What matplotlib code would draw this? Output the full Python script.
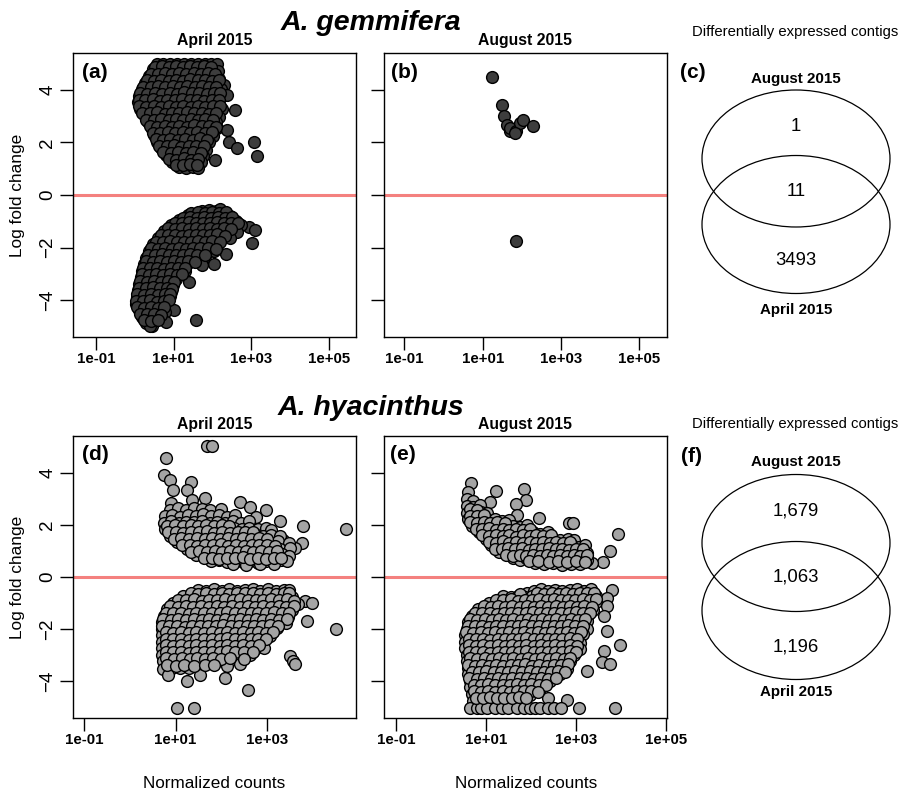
import numpy as np
import matplotlib
matplotlib.use("Agg")
import matplotlib.pyplot as plt
from matplotlib.patches import Ellipse
from matplotlib.ticker import NullLocator

plt.rcParams['font.family'] = ['Liberation Sans', 'DejaVu Sans']

# points are (log10 normalized counts, log fold change)
a_up = [
    (0.57,5.0),(0.74,5.0),(0.92,5.0),(1.1,5.0),(1.27,5.0),(1.45,5.0),(1.63,5.0),(1.8,5.0),(1.97,5.0),(2.12,5.0),
    (0.46,4.78),(0.64,4.71),(0.83,4.77),(1.01,4.7),(1.19,4.8),(1.38,4.73),(1.56,4.76),(1.74,4.69),(1.93,4.79),(2.13,4.72),
    (0.37,4.52),(0.55,4.46),(0.74,4.55),(0.92,4.47),(1.11,4.53),(1.29,4.44),(1.47,4.51),(1.66,4.56),(1.84,4.45),(2.03,4.52),(2.16,4.42),
    (0.27,4.27),(0.46,4.22),(0.64,4.29),(0.83,4.2),(1.02,4.26),(1.2,4.3),(1.39,4.21),(1.57,4.27),(1.76,4.23),(1.95,4.29),(2.13,4.2),(2.29,4.19),
    (0.18,4.02),(0.37,3.97),(0.56,4.04),(0.75,3.95),(0.93,4.01),(1.12,4.05),(1.31,3.96),(1.5,4.03),(1.69,3.98),(1.88,4.04),(2.06,3.96),(2.22,4.02),
    (0.11,3.77),(0.29,3.72),(0.48,3.79),(0.67,3.7),(0.86,3.76),(1.05,3.8),(1.24,3.71),(1.43,3.78),(1.62,3.73),(1.81,3.79),(2.0,3.71),(2.18,3.76),(2.38,3.82),
    (0.08,3.52),(0.25,3.47),(0.44,3.54),(0.63,3.45),(0.82,3.51),(1.0,3.55),(1.19,3.46),(1.38,3.53),(1.57,3.48),(1.76,3.54),(1.95,3.46),(2.14,3.51),
    (0.15,3.27),(0.34,3.22),(0.53,3.29),(0.72,3.2),(0.91,3.26),(1.1,3.3),(1.29,3.21),(1.48,3.28),(1.67,3.23),(1.86,3.29),(2.05,3.21),(2.24,3.26),(2.59,3.24),
    (0.26,3.02),(0.44,2.97),(0.63,3.04),(0.82,2.95),(1.01,3.01),(1.2,3.05),(1.39,2.96),(1.58,3.03),(1.77,2.98),(1.96,3.04),(2.17,2.97),
    (0.35,2.77),(0.54,2.72),(0.73,2.79),(0.92,2.7),(1.11,2.76),(1.3,2.8),(1.49,2.71),(1.68,2.78),(1.87,2.73),(2.1,2.77),
    (0.44,2.52),(0.62,2.47),(0.81,2.54),(1.0,2.45),(1.19,2.51),(1.38,2.55),(1.57,2.46),(1.76,2.53),(1.95,2.48),(2.12,2.54),(2.38,2.48),
    (0.5,2.27),(0.69,2.22),(0.88,2.29),(1.07,2.2),(1.26,2.26),(1.45,2.3),(1.64,2.21),(1.83,2.28),(2.02,2.23),
    (0.58,2.02),(0.77,1.97),(0.96,2.04),(1.15,1.95),(1.34,2.01),(1.53,2.05),(1.72,1.96),(1.92,2.03),(2.42,2.03),(3.06,2.03),
    (0.68,1.77),(0.87,1.72),(1.06,1.79),(1.25,1.7),(1.44,1.76),(1.63,1.8),(1.84,1.73),(2.63,1.78),
    (0.8,1.52),(0.99,1.47),(1.18,1.54),(1.37,1.45),(1.56,1.51),(1.76,1.49),(3.15,1.49),
    (0.95,1.27),(1.14,1.22),(1.33,1.29),(1.52,1.2),(1.7,1.26),(2.07,1.34),
    (1.15,1.06),(1.33,1.02),(1.5,1.08),(1.62,1.04),
]
a_up_more = [
    (0.52,4.88),(0.7,4.9),(0.88,4.86),(1.06,4.9),(1.24,4.87),(1.42,4.9),(1.6,4.86),(1.78,4.89),(1.96,4.87),
    (0.42,4.62),(0.6,4.6),(0.79,4.64),(0.97,4.6),(1.15,4.63),(1.33,4.59),(1.52,4.64),(1.7,4.6),(1.89,4.63),(2.07,4.6),
    (0.32,4.37),(0.51,4.35),(0.69,4.39),(0.88,4.34),(1.06,4.38),(1.25,4.35),(1.43,4.4),(1.62,4.36),(1.81,4.38),(2.0,4.34),(2.18,4.37),
    (0.22,4.12),(0.41,4.1),(0.6,4.14),(0.79,4.09),(0.98,4.13),(1.16,4.1),(1.35,4.15),(1.54,4.11),(1.73,4.13),(1.92,4.09),(2.1,4.12),
    (0.14,3.87),(0.33,3.85),(0.52,3.89),(0.71,3.84),(0.9,3.88),(1.09,3.85),(1.28,3.9),(1.47,3.86),(1.66,3.88),(1.85,3.84),(2.04,3.87),(2.2,3.88),
    (0.1,3.62),(0.27,3.6),(0.46,3.64),(0.65,3.59),(0.84,3.63),(1.03,3.6),(1.22,3.65),(1.41,3.61),(1.6,3.63),(1.79,3.59),(1.98,3.62),(2.16,3.63),
    (0.12,3.37),(0.3,3.35),(0.49,3.39),(0.68,3.34),(0.87,3.38),(1.06,3.35),(1.25,3.4),(1.44,3.36),(1.63,3.38),(1.82,3.34),(2.01,3.37),(2.2,3.38),
    (0.2,3.12),(0.39,3.1),(0.58,3.14),(0.77,3.09),(0.96,3.13),(1.15,3.1),(1.34,3.15),(1.53,3.11),(1.72,3.13),(1.91,3.09),(2.1,3.12),
    (0.3,2.87),(0.49,2.85),(0.68,2.89),(0.87,2.84),(1.06,2.88),(1.25,2.85),(1.44,2.9),(1.63,2.86),(1.82,2.88),(2.02,2.85),
    (0.4,2.62),(0.58,2.6),(0.77,2.64),(0.96,2.59),(1.15,2.63),(1.34,2.6),(1.53,2.65),(1.72,2.61),(1.91,2.63),(2.08,2.6),
    (0.47,2.37),(0.66,2.35),(0.85,2.39),(1.04,2.34),(1.23,2.38),(1.42,2.35),(1.61,2.4),(1.8,2.36),(1.99,2.38),
    (0.54,2.12),(0.73,2.1),(0.92,2.14),(1.11,2.09),(1.3,2.13),(1.49,2.1),(1.68,2.15),(1.87,2.11),
    (0.63,1.87),(0.82,1.85),(1.01,1.89),(1.2,1.84),(1.39,1.88),(1.58,1.85),(1.78,1.88),
    (0.74,1.62),(0.93,1.6),(1.12,1.64),(1.31,1.59),(1.5,1.63),(1.7,1.6),
    (0.88,1.37),(1.07,1.35),(1.26,1.39),(1.45,1.34),(1.63,1.38),
    (1.05,1.15),(1.24,1.13),(1.42,1.17),(1.6,1.14),
]
a_dn = [
    (1.72,-0.62),(1.9,-0.57),(2.08,-0.6),(2.2,-0.55),
    (1.36,-0.77),(1.54,-0.72),(1.72,-0.79),(1.9,-0.74),(2.08,-0.78),(2.27,-0.73),(2.45,-0.8),
    (1.14,-0.95),(1.32,-0.99),(1.5,-0.92),(1.68,-0.97),(1.86,-1.0),(2.04,-0.93),(2.22,-0.98),(2.4,-0.92),(2.6,-0.97),(2.95,-1.21),
    (0.94,-1.15),(1.12,-1.19),(1.3,-1.12),(1.48,-1.18),(1.66,-1.14),(1.84,-1.2),(2.02,-1.13),(2.2,-1.17),(2.38,-1.12),(2.56,-1.19),(2.74,-1.14),(3.1,-1.34),
    (0.76,-1.38),(0.94,-1.43),(1.12,-1.36),(1.3,-1.42),(1.48,-1.39),(1.66,-1.44),(1.84,-1.37),(2.02,-1.41),(2.2,-1.36),(2.4,-1.43),(2.62,-1.4),
    (0.6,-1.63),(0.78,-1.68),(0.96,-1.61),(1.14,-1.67),(1.32,-1.64),(1.5,-1.69),(1.68,-1.62),(1.86,-1.66),(2.04,-1.61),(2.22,-1.68),(2.44,-1.64),(3.02,-1.84),
    (0.48,-1.88),(0.66,-1.93),(0.84,-1.86),(1.02,-1.92),(1.2,-1.89),(1.38,-1.94),(1.56,-1.87),(1.74,-1.91),(1.92,-1.86),(2.12,-1.93),
    (0.38,-2.13),(0.56,-2.18),(0.74,-2.11),(0.92,-2.17),(1.1,-2.14),(1.28,-2.19),(1.46,-2.12),(1.64,-2.16),(1.85,-2.2),(2.05,-2.14),(2.36,-2.23),
    (0.3,-2.38),(0.48,-2.43),(0.66,-2.36),(0.84,-2.42),(1.02,-2.39),(1.2,-2.44),(1.38,-2.37),(1.58,-2.41),(1.76,-2.46),(2.03,-2.61),
    (0.25,-2.63),(0.43,-2.68),(0.61,-2.61),(0.79,-2.67),(0.97,-2.64),(1.15,-2.69),(1.35,-2.62),(1.73,-2.67),
    (0.2,-2.88),(0.38,-2.93),(0.56,-2.86),(0.74,-2.92),(0.92,-2.89),(1.1,-2.94),(1.3,-2.9),
    (0.16,-3.13),(0.34,-3.18),(0.52,-3.11),(0.7,-3.17),(0.88,-3.14),(1.06,-3.19),(1.39,-3.31),
    (0.12,-3.38),(0.3,-3.43),(0.48,-3.36),(0.66,-3.42),(0.84,-3.39),(0.98,-3.44),
    (0.08,-3.63),(0.26,-3.68),(0.44,-3.61),(0.62,-3.67),(0.8,-3.64),(0.93,-3.7),
    (0.05,-3.88),(0.22,-3.93),(0.4,-3.86),(0.58,-3.92),(0.76,-3.89),(0.9,-3.84),
    (0.03,-4.13),(0.2,-4.18),(0.38,-4.11),(0.56,-4.17),(0.74,-4.14),(1.0,-4.39),
    (0.1,-4.38),(0.28,-4.43),(0.46,-4.36),(0.64,-4.42),(0.78,-4.45),
    (0.2,-4.63),(0.38,-4.68),(0.56,-4.61),(0.8,-4.83),(1.57,-4.77),
    (0.3,-4.88),(0.45,-4.97),(0.4,-5.0),
]
a_dn_more = [
    (1.45,-0.68),(1.63,-0.66),(1.81,-0.69),(1.99,-0.65),(2.17,-0.68),(2.35,-0.66),
    (1.23,-0.86),(1.41,-0.84),(1.59,-0.88),(1.77,-0.85),(1.95,-0.87),(2.13,-0.84),(2.31,-0.87),(2.5,-0.85),
    (1.03,-1.05),(1.21,-1.07),(1.39,-1.04),(1.57,-1.08),(1.75,-1.05),(1.93,-1.07),(2.11,-1.04),(2.29,-1.06),(2.47,-1.05),(2.66,-1.07),
    (0.85,-1.27),(1.03,-1.29),(1.21,-1.26),(1.39,-1.3),(1.57,-1.27),(1.75,-1.29),(1.93,-1.26),(2.11,-1.28),(2.29,-1.25),(2.48,-1.3),
    (0.68,-1.52),(0.86,-1.54),(1.04,-1.51),(1.22,-1.55),(1.4,-1.52),(1.58,-1.54),(1.76,-1.51),(1.94,-1.53),(2.12,-1.5),(2.32,-1.55),
    (0.54,-1.77),(0.72,-1.79),(0.9,-1.76),(1.08,-1.8),(1.26,-1.77),(1.44,-1.79),(1.62,-1.76),(1.8,-1.78),(1.98,-1.75),(2.2,-1.8),
    (0.43,-2.02),(0.61,-2.04),(0.79,-2.01),(0.97,-2.05),(1.15,-2.02),(1.33,-2.04),(1.51,-2.01),(1.69,-2.03),(1.88,-2.0),(2.08,-2.04),
    (0.34,-2.27),(0.52,-2.29),(0.7,-2.26),(0.88,-2.3),(1.06,-2.27),(1.24,-2.29),(1.42,-2.26),(1.61,-2.28),(1.8,-2.3),
    (0.28,-2.52),(0.46,-2.54),(0.64,-2.51),(0.82,-2.55),(1.0,-2.52),(1.18,-2.54),(1.36,-2.51),(1.55,-2.53),
    (0.22,-2.77),(0.4,-2.79),(0.58,-2.76),(0.76,-2.8),(0.94,-2.77),(1.12,-2.79),(1.3,-2.76),
    (0.18,-3.02),(0.36,-3.04),(0.54,-3.01),(0.72,-3.05),(0.9,-3.02),(1.08,-3.04),(1.22,-3.01),
    (0.14,-3.27),(0.32,-3.29),(0.5,-3.26),(0.68,-3.3),(0.86,-3.27),(1.02,-3.29),
    (0.1,-3.52),(0.28,-3.54),(0.46,-3.51),(0.64,-3.55),(0.82,-3.52),(0.95,-3.56),
    (0.06,-3.77),(0.24,-3.79),(0.42,-3.76),(0.6,-3.8),(0.78,-3.77),(0.91,-3.75),
    (0.04,-4.02),(0.21,-4.04),(0.39,-4.01),(0.57,-4.05),(0.75,-4.02),(0.88,-4.0),
    (0.06,-4.27),(0.24,-4.29),(0.42,-4.26),(0.6,-4.3),(0.76,-4.27),
    (0.15,-4.52),(0.33,-4.54),(0.51,-4.51),(0.69,-4.55),
    (0.25,-4.77),(0.42,-4.79),(0.6,-4.76),
]
b_pts = [
    (1.23,4.48),(1.5,3.44),(1.54,3.0),(1.61,2.68),(1.7,2.43),(1.71,2.55),
    (1.85,2.42),(1.95,2.74),(2.02,2.86),(2.29,2.61),(1.82,2.35),(1.84,-1.74),
]
d_up = [
    (1.68,5.0),(1.8,5.0),(0.79,4.55),(0.75,3.89),(0.88,3.72),(0.94,3.34),(1.34,3.63),(1.25,3.34),
    (0.91,2.83),(1.36,2.96),(1.65,3.02),(2.41,2.89),(2.63,2.7),(2.98,2.57),(2.77,2.31),(3.29,2.13),
    (3.79,1.96),(4.74,1.85),(3.77,1.3),(3.62,1.11),(3.36,1.43),
    (0.88,2.58),(1.05,2.63),(1.22,2.56),(1.4,2.66),(1.58,2.6),(1.75,2.55),(2.0,2.62),
    (0.76,2.33),(0.93,2.38),(1.1,2.31),(1.27,2.37),(1.44,2.34),(1.61,2.4),(1.78,2.32),(1.95,2.36),(2.12,2.3),(2.3,2.38),
    (0.74,2.08),(0.9,2.13),(1.07,2.06),(1.24,2.12),(1.41,2.09),(1.58,2.15),(1.75,2.07),(1.92,2.11),(2.09,2.05),(2.26,2.13),(2.44,2.08),(2.62,2.14),
    (0.76,1.83),(0.92,1.88),(1.09,1.81),(1.26,1.87),(1.43,1.84),(1.6,1.9),(1.77,1.82),(1.94,1.86),(2.11,1.8),(2.28,1.88),(2.45,1.83),(2.62,1.89),(2.8,1.82),(2.98,1.87),(3.1,1.8),
    (0.88,1.58),(1.05,1.63),(1.22,1.56),(1.39,1.62),(1.56,1.59),(1.73,1.65),(1.9,1.57),(2.07,1.61),(2.24,1.55),(2.41,1.63),(2.58,1.58),(2.75,1.64),(2.92,1.57),(3.1,1.62),(3.3,1.56),
    (1.03,1.33),(1.2,1.38),(1.37,1.31),(1.54,1.37),(1.71,1.34),(1.88,1.4),(2.05,1.32),(2.22,1.36),(2.39,1.3),(2.56,1.38),(2.73,1.33),(2.9,1.39),(3.07,1.32),(3.24,1.37),(3.48,1.3),
    (1.25,1.08),(1.42,1.13),(1.59,1.06),(1.76,1.12),(1.93,1.09),(2.1,1.15),(2.27,1.07),(2.44,1.11),(2.61,1.05),(2.78,1.13),(2.95,1.08),(3.12,1.14),(3.3,1.07),(3.52,1.1),
    (1.45,0.83),(1.62,0.88),(1.79,0.81),(1.96,0.87),(2.13,0.84),(2.3,0.9),(2.47,0.82),(2.64,0.86),(2.81,0.8),(2.98,0.88),(3.15,0.83),(3.34,0.89),(3.48,0.82),
    (1.78,0.62),(1.95,0.66),(2.12,0.59),(2.3,0.63),(2.47,0.56),(2.64,0.6),(2.81,0.55),(2.98,0.61),(3.15,0.58),(3.32,0.64),(3.44,0.6),
    (2.25,0.5),(2.55,0.47),(2.85,0.49),(3.15,0.5),
]
d_up_more = [
    (0.82,1.97),(0.99,1.99),(1.16,1.95),(1.33,1.98),(1.5,1.96),(1.67,2.0),(1.84,1.95),(2.01,1.98),(2.18,1.95),
    (0.84,1.72),(1.0,1.74),(1.17,1.7),(1.34,1.73),(1.51,1.71),(1.68,1.75),(1.85,1.7),(2.02,1.73),(2.19,1.7),(2.36,1.74),(2.53,1.71),(2.7,1.74),
    (0.96,1.47),(1.13,1.49),(1.3,1.45),(1.47,1.48),(1.64,1.46),(1.81,1.5),(1.98,1.45),(2.15,1.48),(2.32,1.45),(2.49,1.49),(2.66,1.46),(2.83,1.49),(3.0,1.45),
    (1.14,1.22),(1.31,1.24),(1.48,1.2),(1.65,1.23),(1.82,1.21),(1.99,1.25),(2.16,1.2),(2.33,1.23),(2.5,1.2),(2.67,1.24),(2.84,1.21),(3.01,1.24),(3.18,1.2),
    (1.35,0.97),(1.52,0.99),(1.69,0.95),(1.86,0.98),(2.03,0.96),(2.2,1.0),(2.37,0.95),(2.54,0.98),(2.71,0.95),(2.88,0.99),(3.05,0.96),(3.22,0.99),
    (1.62,0.72),(1.79,0.74),(1.96,0.7),(2.13,0.73),(2.3,0.71),(2.47,0.75),(2.64,0.7),(2.81,0.73),(2.98,0.7),(3.15,0.74),(3.32,0.71),
]
d_dn = [
    (1.5,-0.48),(1.67,-0.53),(1.84,-0.46),(2.01,-0.52),(2.18,-0.47),(2.35,-0.54),(2.52,-0.49),(2.69,-0.45),(2.86,-0.52),(3.03,-0.47),(3.2,-0.53),(3.37,-0.48),(3.5,-0.5),
    (1.17,-0.73),(1.34,-0.78),(1.51,-0.71),(1.68,-0.77),(1.85,-0.72),(2.02,-0.79),(2.19,-0.74),(2.36,-0.7),(2.53,-0.77),(2.7,-0.72),(2.87,-0.78),(3.04,-0.73),(3.21,-0.76),(3.38,-0.71),(3.55,-0.77),(3.84,-0.9),
    (0.95,-0.98),(1.12,-1.03),(1.29,-0.96),(1.46,-1.02),(1.63,-0.97),(1.8,-1.04),(1.97,-0.99),(2.14,-0.95),(2.31,-1.02),(2.48,-0.97),(2.65,-1.03),(2.82,-0.98),(2.99,-1.01),(3.16,-0.96),(3.33,-1.02),(3.5,-0.97),(3.68,-1.03),(4.0,-1.0),
    (0.81,-1.23),(0.98,-1.28),(1.15,-1.21),(1.32,-1.27),(1.49,-1.22),(1.66,-1.29),(1.83,-1.24),(2.0,-1.2),(2.17,-1.27),(2.34,-1.22),(2.51,-1.28),(2.68,-1.23),(2.85,-1.26),(3.02,-1.21),(3.19,-1.27),(3.36,-1.22),(3.55,-1.25),
    (0.74,-1.48),(0.91,-1.53),(1.08,-1.46),(1.25,-1.52),(1.42,-1.47),(1.59,-1.54),(1.76,-1.49),(1.93,-1.45),(2.1,-1.52),(2.27,-1.47),(2.44,-1.53),(2.61,-1.48),(2.78,-1.51),(2.95,-1.46),(3.12,-1.52),(3.29,-1.47),(3.46,-1.53),(3.88,-1.7),
    (0.71,-1.73),(0.88,-1.78),(1.05,-1.71),(1.22,-1.77),(1.39,-1.72),(1.56,-1.79),(1.73,-1.74),(1.9,-1.7),(2.07,-1.77),(2.24,-1.72),(2.41,-1.78),(2.58,-1.73),(2.75,-1.76),(2.92,-1.71),(3.09,-1.77),(3.26,-1.72),(3.42,-1.78),
    (0.7,-1.98),(0.87,-2.03),(1.04,-1.96),(1.21,-2.02),(1.38,-1.97),(1.55,-2.04),(1.72,-1.99),(1.89,-1.95),(2.06,-2.02),(2.23,-1.97),(2.4,-2.03),(2.57,-1.98),(2.74,-2.01),(2.91,-1.96),(3.08,-2.02),(3.22,-1.97),(4.53,-1.99),
    (0.7,-2.23),(0.87,-2.28),(1.04,-2.21),(1.21,-2.27),(1.38,-2.22),(1.55,-2.29),(1.72,-2.24),(1.89,-2.2),(2.06,-2.27),(2.23,-2.22),(2.4,-2.28),(2.57,-2.23),(2.74,-2.26),(2.91,-2.21),(3.07,-2.27),
    (0.7,-2.48),(0.87,-2.53),(1.04,-2.46),(1.21,-2.52),(1.38,-2.47),(1.55,-2.54),(1.72,-2.49),(1.89,-2.45),(2.06,-2.52),(2.23,-2.47),(2.4,-2.53),(2.57,-2.48),(2.74,-2.51),(2.92,-2.46),
    (0.7,-2.73),(0.87,-2.78),(1.04,-2.71),(1.21,-2.77),(1.38,-2.72),(1.55,-2.79),(1.72,-2.74),(1.89,-2.7),(2.06,-2.77),(2.23,-2.72),(2.4,-2.78),(2.57,-2.73),(2.75,-2.76),(2.95,-2.72),
    (0.7,-2.98),(0.87,-3.03),(1.04,-2.96),(1.21,-3.02),(1.38,-2.97),(1.55,-3.04),(1.72,-2.99),(1.89,-2.95),(2.06,-3.02),(2.23,-2.97),(2.4,-3.03),(2.63,-2.97),(3.51,-3.03),(3.58,-3.2),(3.62,-3.33),
    (0.73,-3.23),(0.9,-3.28),(1.07,-3.21),(1.24,-3.27),(1.41,-3.22),(1.58,-3.29),(1.75,-3.24),(1.92,-3.2),(2.1,-3.27),(2.41,-3.35),
    (0.73,-3.53),(0.92,-3.48),(1.1,-3.5),(1.3,-3.47),(2.14,-3.42),
    (0.84,-3.74),(1.54,-3.74),(2.08,-3.86),(1.25,-4.0),(2.6,-4.31),(1.03,-5.0),(1.41,-5.0),
]
d_dn_more = [
    (1.33,-0.62),(1.5,-0.64),(1.67,-0.61),(1.84,-0.65),(2.01,-0.62),(2.18,-0.64),(2.35,-0.61),(2.52,-0.63),(2.69,-0.6),(2.86,-0.64),(3.03,-0.62),(3.2,-0.64),(3.37,-0.61),(3.5,-0.63),
    (1.06,-0.87),(1.23,-0.89),(1.4,-0.86),(1.57,-0.9),(1.74,-0.87),(1.91,-0.89),(2.08,-0.86),(2.25,-0.88),(2.42,-0.85),(2.59,-0.89),(2.76,-0.87),(2.93,-0.89),(3.1,-0.86),(3.27,-0.88),(3.44,-0.85),(3.6,-0.9),
    (0.88,-1.12),(1.05,-1.14),(1.22,-1.11),(1.39,-1.15),(1.56,-1.12),(1.73,-1.14),(1.9,-1.11),(2.07,-1.13),(2.24,-1.1),(2.41,-1.14),(2.58,-1.12),(2.75,-1.14),(2.92,-1.11),(3.09,-1.13),(3.26,-1.1),(3.43,-1.14),(3.6,-1.12),
    (0.78,-1.37),(0.95,-1.39),(1.12,-1.36),(1.29,-1.4),(1.46,-1.37),(1.63,-1.39),(1.8,-1.36),(1.97,-1.38),(2.14,-1.35),(2.31,-1.39),(2.48,-1.37),(2.65,-1.39),(2.82,-1.36),(2.99,-1.38),(3.16,-1.35),(3.33,-1.39),(3.5,-1.37),
    (0.72,-1.62),(0.89,-1.64),(1.06,-1.61),(1.23,-1.65),(1.4,-1.62),(1.57,-1.64),(1.74,-1.61),(1.91,-1.63),(2.08,-1.6),(2.25,-1.64),(2.42,-1.62),(2.59,-1.64),(2.76,-1.61),(2.93,-1.63),(3.1,-1.6),(3.27,-1.64),(3.44,-1.62),
    (0.7,-1.87),(0.86,-1.89),(1.03,-1.86),(1.2,-1.9),(1.37,-1.87),(1.54,-1.89),(1.71,-1.86),(1.88,-1.88),(2.05,-1.85),(2.22,-1.89),(2.39,-1.87),(2.56,-1.89),(2.73,-1.86),(2.9,-1.88),(3.07,-1.85),(3.24,-1.89),
    (0.78,-2.12),(0.95,-2.14),(1.12,-2.11),(1.29,-2.15),(1.46,-2.12),(1.63,-2.14),(1.8,-2.11),(1.97,-2.13),(2.14,-2.1),(2.31,-2.14),(2.48,-2.12),(2.65,-2.14),(2.82,-2.11),(2.99,-2.13),(3.14,-2.1),
    (0.78,-2.37),(0.95,-2.39),(1.12,-2.36),(1.29,-2.4),(1.46,-2.37),(1.63,-2.39),(1.8,-2.36),(1.97,-2.38),(2.14,-2.35),(2.31,-2.39),(2.48,-2.37),(2.65,-2.39),(2.82,-2.36),(2.99,-2.38),
    (0.78,-2.62),(0.95,-2.64),(1.12,-2.61),(1.29,-2.65),(1.46,-2.62),(1.63,-2.64),(1.8,-2.61),(1.97,-2.63),(2.14,-2.6),(2.31,-2.64),(2.48,-2.62),(2.65,-2.64),(2.84,-2.61),
    (0.78,-2.87),(0.95,-2.89),(1.12,-2.86),(1.29,-2.9),(1.46,-2.87),(1.63,-2.89),(1.8,-2.86),(1.97,-2.88),(2.14,-2.85),(2.31,-2.89),(2.5,-2.87),(2.7,-2.89),
    (0.8,-3.12),(0.97,-3.14),(1.14,-3.11),(1.31,-3.15),(1.48,-3.12),(1.65,-3.14),(1.82,-3.11),(1.99,-3.13),(2.2,-3.1),(2.5,-3.14),
    (0.82,-3.37),(1.0,-3.39),(1.18,-3.36),(1.4,-3.4),(1.65,-3.37),(1.85,-3.36),
]
e_up = [
    (0.66,3.59),(0.61,3.27),(1.23,3.31),(1.84,3.38),(1.09,2.89),(1.88,2.93),(1.67,2.8),(1.69,2.38),
    (2.17,2.25),(2.84,2.06),(2.94,2.06),(3.93,1.66),(3.77,0.98),(3.6,0.56),(3.36,0.53),
    (0.58,2.97),(0.72,2.92),
    (0.57,2.72),(0.72,2.67),(0.87,2.74),
    (0.58,2.47),(0.73,2.42),(0.88,2.5),(1.03,2.44),
    (0.6,2.22),(0.75,2.17),(0.9,2.24),(1.05,2.18),(1.2,2.23),(1.36,2.16),(1.52,2.2),
    (0.7,1.97),(0.85,1.92),(1.0,1.99),(1.15,1.93),(1.3,1.98),(1.45,1.91),(1.6,1.96),(1.75,1.92),(1.92,1.98),
    (0.85,1.72),(1.0,1.67),(1.15,1.74),(1.3,1.68),(1.45,1.73),(1.6,1.66),(1.75,1.71),(1.9,1.67),(2.05,1.73),(2.2,1.66),(2.38,1.72),
    (1.0,1.47),(1.15,1.42),(1.3,1.49),(1.45,1.43),(1.6,1.48),(1.75,1.41),(1.9,1.46),(2.05,1.42),(2.2,1.48),(2.35,1.41),(2.5,1.46),(2.65,1.4),(2.82,1.45),(2.95,1.42),
    (1.12,1.22),(1.27,1.17),(1.42,1.24),(1.57,1.18),(1.72,1.23),(1.87,1.16),(2.02,1.21),(2.17,1.17),(2.32,1.23),(2.47,1.16),(2.62,1.21),(2.77,1.17),(2.92,1.23),(3.07,1.16),(3.2,1.21),
    (1.3,0.97),(1.45,0.92),(1.6,0.99),(1.75,0.93),(1.9,0.98),(2.05,0.91),(2.2,0.96),(2.35,0.92),(2.5,0.98),(2.65,0.91),(2.8,0.96),(2.95,0.92),(3.1,0.98),(3.25,0.93),
    (1.6,0.72),(1.75,0.67),(1.9,0.74),(2.05,0.68),(2.2,0.73),(2.35,0.66),(2.5,0.71),(2.65,0.67),(2.8,0.73),(2.95,0.66),(3.1,0.71),(3.25,0.65),
    (2.1,0.52),(2.3,0.48),(2.5,0.53),(2.7,0.47),(2.9,0.5),(3.1,0.49),
]
e_up_more = [
    (0.64,2.6),(0.8,2.58),
    (0.65,2.35),(0.8,2.33),(0.95,2.37),
    (0.65,2.1),(0.8,2.06),(0.95,2.1),(1.1,2.06),(1.25,2.1),(1.42,2.07),
    (0.77,1.84),(0.92,1.82),(1.07,1.86),(1.22,1.81),(1.37,1.85),(1.52,1.8),(1.67,1.84),(1.82,1.81),(1.98,1.85),
    (0.92,1.59),(1.07,1.57),(1.22,1.61),(1.37,1.56),(1.52,1.6),(1.67,1.55),(1.82,1.59),(1.97,1.56),(2.12,1.6),(2.28,1.56),(2.44,1.59),
    (1.07,1.34),(1.22,1.32),(1.37,1.36),(1.52,1.31),(1.67,1.35),(1.82,1.3),(1.97,1.34),(2.12,1.31),(2.27,1.35),(2.42,1.31),(2.57,1.34),(2.72,1.3),(2.88,1.33),
    (1.2,1.09),(1.35,1.07),(1.5,1.11),(1.65,1.06),(1.8,1.1),(1.95,1.05),(2.1,1.09),(2.25,1.06),(2.4,1.1),(2.55,1.06),(2.7,1.09),(2.85,1.05),(3.0,1.08),(3.15,1.06),
    (1.45,0.84),(1.6,0.82),(1.75,0.86),(1.9,0.81),(2.05,0.85),(2.2,0.8),(2.35,0.84),(2.5,0.81),(2.65,0.85),(2.8,0.81),(2.95,0.84),(3.1,0.8),(3.25,0.83),
    (1.95,0.6),(2.15,0.6),(2.4,0.58),(2.6,0.6),(2.8,0.58),(3.0,0.6),(3.2,0.58),
]
e_dn = [
    (1.91,-0.61),(2.06,-0.52),(2.22,-0.47),(2.38,-0.53),(2.54,-0.48),(2.7,-0.54),(2.86,-0.49),(3.02,-0.45),(3.18,-0.52),(3.34,-0.47),(3.8,-0.48),
    (1.39,-0.73),(1.55,-0.78),(1.71,-0.71),(1.87,-0.77),(2.03,-0.72),(2.19,-0.79),(2.35,-0.74),(2.51,-0.7),(2.67,-0.77),(2.83,-0.72),(2.99,-0.78),(3.15,-0.73),(3.31,-0.76),(3.45,-0.71),(3.69,-0.8),
    (1.06,-0.98),(1.22,-1.03),(1.38,-0.96),(1.54,-1.02),(1.7,-0.97),(1.86,-1.04),(2.02,-0.99),(2.18,-0.95),(2.34,-1.02),(2.5,-0.97),(2.66,-1.03),(2.82,-0.98),(2.98,-1.01),(3.14,-0.96),(3.3,-1.02),(3.45,-0.97),(3.69,-1.12),
    (0.83,-1.23),(0.99,-1.28),(1.15,-1.21),(1.31,-1.27),(1.47,-1.22),(1.63,-1.29),(1.79,-1.24),(1.95,-1.2),(2.11,-1.27),(2.27,-1.22),(2.43,-1.28),(2.59,-1.23),(2.75,-1.26),(2.91,-1.21),(3.07,-1.27),(3.23,-1.22),(3.39,-1.26),
    (0.69,-1.48),(0.85,-1.53),(1.01,-1.46),(1.17,-1.52),(1.33,-1.47),(1.49,-1.54),(1.65,-1.49),(1.81,-1.45),(1.97,-1.52),(2.13,-1.47),(2.29,-1.53),(2.45,-1.48),(2.61,-1.51),(2.77,-1.46),(2.93,-1.52),(3.09,-1.47),(3.25,-1.53),(3.62,-1.5),
    (0.61,-1.73),(0.77,-1.78),(0.93,-1.71),(1.09,-1.77),(1.25,-1.72),(1.41,-1.79),(1.57,-1.74),(1.73,-1.7),(1.89,-1.77),(2.05,-1.72),(2.21,-1.78),(2.37,-1.73),(2.53,-1.76),(2.69,-1.71),(2.85,-1.77),(3.01,-1.72),(3.17,-1.78),(3.25,-1.7),
    (0.57,-1.98),(0.73,-2.03),(0.89,-1.96),(1.05,-2.02),(1.21,-1.97),(1.37,-2.04),(1.53,-1.99),(1.69,-1.95),(1.85,-2.02),(2.01,-1.97),(2.17,-2.03),(2.33,-1.98),(2.49,-2.01),(2.65,-1.96),(2.81,-2.02),(2.97,-1.97),(3.13,-2.03),(3.25,-1.98),(3.69,-2.05),
    (0.54,-2.23),(0.7,-2.28),(0.86,-2.21),(1.02,-2.27),(1.18,-2.22),(1.34,-2.29),(1.5,-2.24),(1.66,-2.2),(1.82,-2.27),(1.98,-2.22),(2.14,-2.28),(2.3,-2.23),(2.46,-2.26),(2.62,-2.21),(2.78,-2.27),(2.94,-2.22),(3.1,-2.28),(3.17,-2.2),
    (0.54,-2.48),(0.7,-2.53),(0.86,-2.46),(1.02,-2.52),(1.18,-2.47),(1.34,-2.54),(1.5,-2.49),(1.66,-2.45),(1.82,-2.52),(1.98,-2.47),(2.14,-2.53),(2.3,-2.48),(2.46,-2.51),(2.62,-2.46),(2.78,-2.52),(2.94,-2.47),(3.1,-2.51),(3.99,-2.59),
    (0.54,-2.73),(0.7,-2.78),(0.86,-2.71),(1.02,-2.77),(1.18,-2.72),(1.34,-2.79),(1.5,-2.74),(1.66,-2.7),(1.82,-2.77),(1.98,-2.72),(2.14,-2.78),(2.3,-2.73),(2.46,-2.76),(2.62,-2.71),(2.78,-2.77),(2.94,-2.72),(3.1,-2.76),(3.62,-2.84),
    (0.57,-2.98),(0.73,-3.03),(0.89,-2.96),(1.05,-3.02),(1.21,-2.97),(1.37,-3.04),(1.53,-2.99),(1.69,-2.95),(1.85,-3.02),(2.01,-2.97),(2.17,-3.03),(2.33,-2.98),(2.49,-3.01),(2.65,-2.96),(2.81,-3.02),(2.95,-2.97),(3.58,-3.25),(3.77,-3.33),
    (0.57,-3.23),(0.73,-3.28),(0.89,-3.21),(1.05,-3.27),(1.21,-3.22),(1.37,-3.29),(1.53,-3.24),(1.69,-3.2),(1.85,-3.27),(2.01,-3.22),(2.17,-3.28),(2.33,-3.23),(2.49,-3.26),(2.65,-3.21),(2.81,-3.27),(2.88,-3.2),
    (0.61,-3.48),(0.77,-3.53),(0.93,-3.46),(1.09,-3.52),(1.25,-3.47),(1.41,-3.54),(1.57,-3.49),(1.73,-3.45),(1.89,-3.52),(2.05,-3.47),(2.21,-3.53),(2.37,-3.48),(2.53,-3.51),(2.69,-3.46),(2.8,-3.52),(3.25,-3.61),
    (0.61,-3.73),(0.77,-3.78),(0.93,-3.71),(1.09,-3.77),(1.25,-3.72),(1.41,-3.79),(1.57,-3.74),(1.73,-3.7),(1.89,-3.77),(2.05,-3.72),(2.21,-3.78),(2.37,-3.73),(2.53,-3.76),(2.65,-3.71),
    (0.65,-3.98),(0.81,-4.03),(0.97,-3.96),(1.13,-4.02),(1.29,-3.97),(1.45,-4.04),(1.61,-3.99),(1.77,-3.95),(1.93,-4.02),(2.09,-3.97),(2.25,-4.03),(2.43,-3.98),
    (0.65,-4.23),(0.81,-4.28),(0.97,-4.21),(1.13,-4.27),(1.29,-4.22),(1.45,-4.29),(1.61,-4.24),(1.77,-4.2),(1.93,-4.27),(2.09,-4.22),(2.21,-4.28),
    (0.69,-4.48),(0.85,-4.53),(1.01,-4.46),(1.17,-4.52),(1.33,-4.47),(1.49,-4.54),(1.65,-4.49),(1.81,-4.45),(1.98,-4.52),(2.39,-4.65),(2.8,-4.7),
    (0.72,-4.73),(0.9,-4.78),(1.1,-4.72),(1.3,-4.77),(1.5,-4.74),(1.69,-4.71),
    (0.64,-5.0),(0.79,-5.0),(0.9,-5.0),(1.02,-5.0),(1.2,-5.0),(1.35,-5.0),(1.5,-5.0),(1.69,-5.0),(1.84,-5.0),(1.99,-5.0),
    (2.1,-5.0),(2.21,-5.0),(2.39,-5.0),(2.52,-5.0),(2.66,-5.0),(3.08,-5.0),(3.88,-5.0),
]
e_dn_more = [
    (1.75,-0.65),(2.14,-0.62),(2.3,-0.64),(2.46,-0.61),(2.62,-0.65),(2.78,-0.62),(2.94,-0.64),(3.1,-0.61),(3.26,-0.63),(3.4,-0.6),
    (1.23,-0.87),(1.39,-0.89),(1.55,-0.86),(1.71,-0.9),(1.87,-0.87),(2.03,-0.89),(2.19,-0.86),(2.35,-0.88),(2.51,-0.85),(2.67,-0.89),(2.83,-0.87),(2.99,-0.89),(3.15,-0.86),(3.31,-0.88),(3.45,-0.85),
    (0.95,-1.12),(1.11,-1.14),(1.27,-1.11),(1.43,-1.15),(1.59,-1.12),(1.75,-1.14),(1.91,-1.11),(2.07,-1.13),(2.23,-1.1),(2.39,-1.14),(2.55,-1.12),(2.71,-1.14),(2.87,-1.11),(3.03,-1.13),(3.19,-1.1),(3.35,-1.14),
    (0.76,-1.37),(0.92,-1.39),(1.08,-1.36),(1.24,-1.4),(1.4,-1.37),(1.56,-1.39),(1.72,-1.36),(1.88,-1.38),(2.04,-1.35),(2.2,-1.39),(2.36,-1.37),(2.52,-1.39),(2.68,-1.36),(2.84,-1.38),(3.0,-1.35),(3.16,-1.39),(3.32,-1.37),
    (0.65,-1.62),(0.81,-1.64),(0.97,-1.61),(1.13,-1.65),(1.29,-1.62),(1.45,-1.64),(1.61,-1.61),(1.77,-1.63),(1.93,-1.6),(2.09,-1.64),(2.25,-1.62),(2.41,-1.64),(2.57,-1.61),(2.73,-1.63),(2.89,-1.6),(3.05,-1.64),(3.21,-1.62),
    (0.59,-1.87),(0.75,-1.89),(0.91,-1.86),(1.07,-1.9),(1.23,-1.87),(1.39,-1.89),(1.55,-1.86),(1.71,-1.88),(1.87,-1.85),(2.03,-1.89),(2.19,-1.87),(2.35,-1.89),(2.51,-1.86),(2.67,-1.88),(2.83,-1.85),(2.99,-1.89),(3.15,-1.87),
    (0.56,-2.12),(0.72,-2.14),(0.88,-2.11),(1.04,-2.15),(1.2,-2.12),(1.36,-2.14),(1.52,-2.11),(1.68,-2.13),(1.84,-2.1),(2.0,-2.14),(2.16,-2.12),(2.32,-2.14),(2.48,-2.11),(2.64,-2.13),(2.8,-2.1),(2.96,-2.14),(3.12,-2.12),
    (0.62,-2.37),(0.78,-2.39),(0.94,-2.36),(1.1,-2.4),(1.26,-2.37),(1.42,-2.39),(1.58,-2.36),(1.74,-2.38),(1.9,-2.35),(2.06,-2.39),(2.22,-2.37),(2.38,-2.39),(2.54,-2.36),(2.7,-2.38),(2.86,-2.35),(3.02,-2.39),
    (0.62,-2.62),(0.78,-2.64),(0.94,-2.61),(1.1,-2.65),(1.26,-2.62),(1.42,-2.64),(1.58,-2.61),(1.74,-2.63),(1.9,-2.6),(2.06,-2.64),(2.22,-2.62),(2.38,-2.64),(2.54,-2.61),(2.7,-2.63),(2.86,-2.6),(3.02,-2.64),
    (0.62,-2.87),(0.78,-2.89),(0.94,-2.86),(1.1,-2.9),(1.26,-2.87),(1.42,-2.89),(1.58,-2.86),(1.74,-2.88),(1.9,-2.85),(2.06,-2.89),(2.22,-2.87),(2.38,-2.89),(2.54,-2.86),(2.7,-2.88),(2.86,-2.85),(3.0,-2.89),
    (0.65,-3.12),(0.81,-3.14),(0.97,-3.11),(1.13,-3.15),(1.29,-3.12),(1.45,-3.14),(1.61,-3.11),(1.77,-3.13),(1.93,-3.1),(2.09,-3.14),(2.25,-3.12),(2.41,-3.14),(2.57,-3.11),(2.73,-3.13),(2.88,-3.1),
    (0.59,-3.37),(0.75,-3.39),(0.91,-3.36),(1.07,-3.4),(1.23,-3.37),(1.39,-3.39),(1.55,-3.36),(1.71,-3.38),(1.87,-3.35),(2.03,-3.39),(2.19,-3.37),(2.35,-3.39),(2.51,-3.36),(2.67,-3.38),(2.82,-3.35),
    (0.69,-3.62),(0.85,-3.64),(1.01,-3.61),(1.17,-3.65),(1.33,-3.62),(1.49,-3.64),(1.65,-3.61),(1.81,-3.63),(1.97,-3.6),(2.13,-3.64),(2.29,-3.62),(2.45,-3.64),(2.61,-3.61),(2.75,-3.63),
    (0.63,-3.87),(0.79,-3.89),(0.95,-3.86),(1.11,-3.9),(1.27,-3.87),(1.43,-3.89),(1.59,-3.86),(1.75,-3.88),(1.91,-3.85),(2.07,-3.89),(2.23,-3.87),(2.39,-3.89),(2.55,-3.86),
    (0.73,-4.12),(0.89,-4.14),(1.05,-4.11),(1.21,-4.15),(1.37,-4.12),(1.53,-4.14),(1.69,-4.11),(1.85,-4.13),(2.01,-4.1),(2.17,-4.14),(2.33,-4.12),
    (0.73,-4.37),(0.89,-4.39),(1.05,-4.36),(1.21,-4.4),(1.37,-4.37),(1.53,-4.39),(1.69,-4.36),(1.85,-4.38),(2.01,-4.35),(2.15,-4.39),
    (0.77,-4.62),(0.93,-4.64),(1.09,-4.61),(1.25,-4.65),(1.41,-4.62),(1.57,-4.64),(1.73,-4.61),(1.9,-4.63),
]

species = ['A. gemmifera', 'A. hyacinthus']
months = ['April 2015', 'August 2015']
venn_c = ['1', '11', '3493']
venn_f = ['1,679', '1,063', '1,196']
xtick_pos = [1e-1, 1e1, 1e3, 1e5]
xtick_lab = ['1e-01', '1e+01', '1e+03', '1e+05']
ytick_pos = [-4, -2, 0, 2, 4]
ytick_lab = ['\u22124', '\u22122', '0', '2', '4']

W, H = 901, 792
fig = plt.figure(figsize=(W / 100, H / 100), dpi=100)


def px_axes(l, t, r, b):
    return fig.add_axes([l / W, 1 - b / H, (r - l) / W, (b - t) / H])


def ma_panel(box, xlo, xhi, pts, fc, ylabels):
    ax = px_axes(*box)
    ax.set_xscale('log')
    ax.set_xlim(10 ** xlo, 10 ** xhi)
    ax.set_ylim(-5.4, 5.4)
    ax.axhline(0, color='#f4817f', lw=2.2, zorder=1)
    for p in pts:
        arr = np.array(p)
        ax.scatter(10 ** arr[:, 0], arr[:, 1], s=72, c=fc, edgecolors='black',
                   linewidths=1.0, zorder=2)
    # only ticks that fall inside the panel
    keep = [i for i, v in enumerate(xtick_pos) if np.log10(v) <= xhi]
    ax.set_xticks([xtick_pos[i] for i in keep], [xtick_lab[i] for i in keep])
    ax.xaxis.set_minor_locator(NullLocator())
    ax.set_yticks(ytick_pos, ytick_lab if ylabels else [''] * 5)
    ax.tick_params(axis='x', direction='out', length=9.5, width=1, pad=1.5, labelsize=10.8)
    ax.tick_params(axis='y', direction='out', length=9.5, width=1, pad=2.5, labelsize=13.5)
    for lab in ax.get_xticklabels():
        lab.set_fontweight('bold')
    for lab in ax.get_yticklabels():
        lab.set_rotation(90)
        lab.set_va('center')
    for sp in ax.spines.values():
        sp.set_linewidth(1.0)
    return ax


dark = '#3d3d3d'
light = '#a4a4a4'
ma_panel((73, 53, 356, 337), -1.585, 5.69, [a_up, a_up_more, a_dn, a_dn_more], dark, True)
ma_panel((384, 53, 667, 337), -1.52, 5.71, [b_pts], dark, False)
ma_panel((73, 436, 356, 718), -1.25, 4.96, [d_up, d_up_more, d_dn, d_dn_more], light, True)
ma_panel((384, 436, 667, 718), -1.27, 5.03, [e_up, e_up_more, e_dn, e_dn_more], light, False)

# overlay in pixel coordinates for titles, labels and Venn diagrams
ov = fig.add_axes([0, 0, 1, 1])
ov.set_xlim(0, W)
ov.set_ylim(H, 0)
ov.axis('off')
ov.patch.set_alpha(0)

for row, yoff in enumerate([0, 384]):
    ov.text(371, 23 + yoff + (1 if row else 0), species[row], ha='center', va='center',
            fontsize=20.5, fontweight='bold', fontstyle='italic')
    ov.text(214.5, 41 + yoff, months[0], ha='center', va='center', fontsize=11.3, fontweight='bold')
    ov.text(525.5, 41 + yoff, months[1], ha='center', va='center', fontsize=11.3, fontweight='bold')
    ov.text(18, 195 + yoff - (2 if row else 0), 'Log fold change', rotation=90, ha='center', va='center', fontsize=12.4)
    ov.text(795, 32 + yoff + (10 if row else 0) - (2 if row else 0), 'Differentially expressed contigs',
            ha='center', va='center', fontsize=10.7)

ov.text(214, 783, 'Normalized counts', ha='center', va='center', fontsize=12.3)
ov.text(526, 783, 'Normalized counts', ha='center', va='center', fontsize=12.3)

for lab, x, y in [('(a)', 95, 72), ('(b)', 404, 72), ('(d)', 95, 455), ('(e)', 403, 455),
                  ('(c)', 693, 72), ('(f)', 692, 456)]:
    ov.text(x, y, lab, ha='center', va='center', fontsize=15, fontweight='bold')

for counts, top_c, bot_c, ytitle, ybottom in [(venn_c, 158.5, 224.5, 79, 310),
                                              (venn_f, 543, 610.5, 462, 692)]:
    ov.add_patch(Ellipse((796, top_c), 188, 137, fill=False, ec='black', lw=0.9))
    ov.add_patch(Ellipse((796, bot_c), 188, 138, fill=False, ec='black', lw=0.9))
    ov.text(796, ytitle, months[1], ha='center', va='center', fontsize=10.9, fontweight='bold')
    ov.text(796, ybottom, months[0], ha='center', va='center', fontsize=10.9, fontweight='bold')
    mid = (top_c + bot_c) / 2
    ov.text(796, top_c - 32, counts[0], ha='center', va='center', fontsize=13.3)
    ov.text(796, mid, counts[1], ha='center', va='center', fontsize=13.3)
    ov.text(796, bot_c + 36, counts[2], ha='center', va='center', fontsize=13.3)

fig.savefig('out.png', dpi=100)
